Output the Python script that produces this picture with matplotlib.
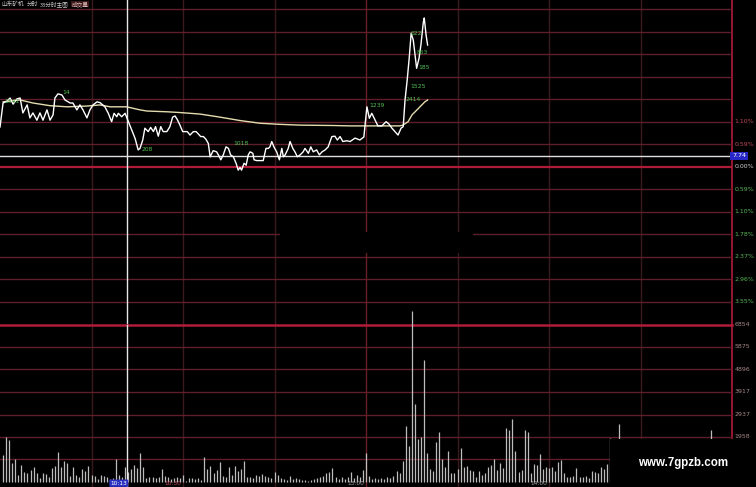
import matplotlib
matplotlib.use('Agg')
import matplotlib.pyplot as plt
from matplotlib.patches import Rectangle

# intraday price, minutes after 9:30 and % change vs previous close
price_t = [0.0, 1.0, 2.3, 3.3, 4.3, 5.6, 6.6, 7.5, 8.9, 9.8, 10.8, 12.1, 13.1, 14.1, 15.4, 16.4, 17.4, 18.0,
           19.0, 20.3, 21.3, 23.0, 23.9, 25.2, 26.2, 27.2, 28.5, 29.5, 30.5, 31.8, 32.8, 34.4, 35.5, 36.6,
           37.4, 38.3, 38.8, 39.9, 41.0, 42.1, 43.2, 44.3, 45.3, 45.9, 46.8, 47.5, 48.6, 49.4, 50.3, 51.0,
           51.9, 52.7, 53.5, 54.7, 55.7, 56.6, 57.4, 58.1, 59.0, 59.9, 61.4, 62.3, 63.4, 64.3, 65.0, 65.8,
           66.7, 67.5, 68.3, 68.9, 69.9, 71.0, 71.6, 72.4, 73.2, 74.1, 74.9, 75.6, 76.5, 77.4, 78.1, 78.7,
           79.2, 80.0, 80.7, 81.4, 82.0, 82.9, 83.3, 84.2, 85.2, 86.3, 87.2, 88.0, 88.5, 89.1, 89.8, 90.7,
           91.6, 92.4, 92.9, 93.5, 94.5, 95.1, 96.0, 96.7, 97.5, 98.4, 99.4, 100.0, 101.1, 101.9, 102.7,
           103.8, 104.7, 105.6, 106.6, 107.6, 108.8, 109.8, 110.6, 111.5, 112.4, 113.7, 114.8, 116.4,
           118.0, 119.3, 120.3, 121.1, 121.9, 123.0, 123.9, 125.2, 126.6, 127.5, 128.5, 129.5, 130.5,
           131.5, 132.2, 132.8, 133.5, 134.2, 134.8, 135.5, 136.6, 137.4, 138.0, 138.8, 139.1, 139.7, 140.2]
price_pct = [1.04, 1.67, 1.72, 1.80, 1.64, 1.78, 1.80, 1.41, 1.62, 1.28, 1.41, 1.22, 1.41, 1.22, 1.49, 1.22,
             1.36, 1.80, 1.91, 1.88, 1.75, 1.67, 1.67, 1.49, 1.62, 1.49, 1.28, 1.49, 1.62, 1.70, 1.68, 1.57,
             1.40, 1.18, 1.40, 1.31, 1.40, 1.31, 1.40, 1.18, 0.96, 0.74, 0.44, 0.48, 0.70, 1.01, 0.92, 1.03,
             0.92, 1.05, 0.80, 1.05, 0.92, 0.92, 1.05, 1.30, 1.33, 1.24, 1.09, 0.92, 0.92, 0.83, 0.92, 0.92,
             0.86, 0.79, 0.79, 0.72, 0.61, 0.26, 0.42, 0.39, 0.31, 0.18, 0.31, 0.52, 0.48, 0.31, 0.26, 0.09,
             -0.09, -0.02, -0.09, 0.09, 0.04, 0.31, 0.39, 0.35, 0.18, 0.16, 0.16, 0.16, 0.48, 0.48, 0.52,
             0.66, 0.52, 0.39, 0.18, 0.48, 0.26, 0.31, 0.48, 0.66, 0.48, 0.39, 0.26, 0.31, 0.39, 0.48, 0.35,
             0.52, 0.39, 0.44, 0.31, 0.39, 0.44, 0.52, 0.79, 0.80, 0.70, 0.79, 0.66, 0.68, 0.66, 0.75, 0.70,
             0.78, 1.57, 1.27, 1.40, 1.22, 1.07, 1.07, 1.18, 1.12, 1.01, 0.92, 0.83, 1.01, 1.05, 1.75, 2.27,
             2.88, 3.50, 3.32, 2.58, 2.85, 3.19, 3.79, 3.90, 3.45, 3.19]

# average price line
avg_t = [1.0, 6.6, 10.8, 16.4, 22.0, 28.5, 32.8, 36.1, 41.5, 45.9, 48.1, 54.7, 59.0, 65.6, 72.1, 78.7,
         85.2, 91.8, 98.4, 109.2, 114.8, 123.0, 131.1, 132.1, 133.8, 135.1, 136.1, 137.7, 139.3, 140.2]
avg_pct = [1.70, 1.75, 1.67, 1.60, 1.57, 1.59, 1.62, 1.57, 1.57, 1.49, 1.46, 1.44, 1.42, 1.38, 1.30, 1.21,
           1.14, 1.11, 1.09, 1.08, 1.07, 1.07, 1.07, 1.09, 1.18, 1.36, 1.44, 1.57, 1.70, 1.75]

# volume per minute (minute 1 onwards)
volume = [1162, 1958, 1814, 814, 988, 291, 727, 422, 379, 509,
          640, 379, 161, 379, 335, 204, 596, 683, 1292, 640,
          901, 814, 248, 640, 291, 204, 553, 466, 683, 291,
          248, 117, 291, 248, 204, 117, 161, 988, 291, 204,
          640, 422, 553, 727, 596, 1249, 640, 161, 204, 204,
          161, 204, 553, 248, 204, 117, 161, 204, 161, 291,
          30, 161, 161, 117, 161, 74, 1075, 553, 683, 379,
          509, 857, 248, 204, 640, 291, 683, 466, 553, 901,
          204, 204, 161, 291, 248, 335, 248, 204, 161, 422,
          291, 161, 117, 74, 248, 117, 161, 117, 74, 74,
          30, 74, 117, 161, 204, 248, 379, 422, 596, 204,
          117, 204, 117, 204, 422, 161, 291, 204, 509, 1249,
          248, 117, 161, 117, 161,
          117, 204, 161, 248, 466, 379, 901, 2424, 1549, 7427,
          3381, 1858, 1945, 5295, 1262, 553, 466, 1740, 2176, 988,
          640, 1349, 392, 379, 553, 1466, 640, 683, 509, 466,
          204, 466, 291, 379, 640, 727, 988, 509, 814, 596,
          2367, 2280, 2759, 1349, 435, 509, 2250, 2176, 392, 770,
          727, 1236, 553, 640, 596, 640, 466, 870, 975, 379,
          204, 204, 248, 596, 204, 204, 248, 161, 466, 422,
          379, 640, 553, 770, 1932]
late_t = [203, 233]
late_vol = [2510, 2250]

# green value tags on the price line
tag_t = [1.5, 20.5, 46.5, 76.5, 121.0, 133.0, 134.5, 137.0, 136.5, 134.5]
tag_pct = [1.70, 1.95, 0.45, 0.62, 1.60, 1.75, 2.10, 2.60, 3.00, 3.50]
tag_txt = ['1541', '14', '208', '1018', '1239', '2414', '1525', '185', '863', '622']

price_levels = [1.18, 0.59, 0.0, -0.59, -1.18, -1.77, -2.36, -2.95, -3.54]
price_labels = ['1.10%', '0.59%', '0.00%', '0.59%', '1.10%', '1.78%', '2.37%', '2.96%', '3.55%']
price_label_colors = ['#c04858', '#c04858', '#d0d0d0'] + ['#58b858'] * 6
vol_levels = [6854, 5875, 4896, 3917, 2937, 1958]

cross_t = 41.7
cross_pct = 0.29
cross_price = '7.74'
time_ticks = [60, 120, 180]
time_labels = ['10:30', '13:00', '14:00']
time_colors = ['#c04858', '#a0a0a0', '#a0a0a0']

W, H = 756, 487
GRID = '#5e1e2a'
DIM = '#3a1a1e'
RED = '#b01c38'

fig = plt.figure(figsize=(W / 100, H / 100), dpi=100, facecolor='black')
ax = fig.add_axes([0, 1 - 324.5 / H, 732 / W, 324.5 / H])
axv = fig.add_axes([0, 0, 732 / W, (H - 324.5) / H])

for a in (ax, axv):
    a.set_facecolor('black')
    a.set_xlim(0, 240)
    a.set_xticks([])
    a.set_yticks([])
    for s in a.spines.values():
        s.set_visible(False)
    for t in (30, 60, 90, 150, 180, 210):
        a.axvline(t, color=DIM, lw=1, zorder=1)
    a.axvline(120, color='#6a1e28', lw=1, zorder=1)
    a.axvline(240, color=RED, lw=1.2, zorder=1, clip_on=False)

ax.set_ylim(-4.138, 4.371)
axv.set_ylim(-218, 6854)

for k in range(-6, 8):
    if k == 0:
        ax.axhline(0, color=RED, lw=1.6, zorder=1)
    else:
        ax.axhline(k * 0.59, color=GRID, lw=1, zorder=1)
for v in (979, 1958, 2937, 3917, 4896, 5875):
    axv.axhline(v, color=GRID, lw=1, zorder=1)
axv.axhline(6854, color=RED, lw=1.8, zorder=1, clip_on=False)

# volume bars
vt = list(range(1, len(volume) + 1))
axv.vlines(vt, 0, volume, color='#bdbdbd', lw=0.9, zorder=2, clip_on=False)
axv.vlines(late_t, 0, late_vol, color='#bdbdbd', lw=0.9, zorder=2)

# price and average lines
ax.plot(avg_t, avg_pct, color='#e4dcae', lw=1.0, zorder=3)
ax.plot(price_t, price_pct, color='white', lw=1.0, zorder=4)
for t, p, s in zip(tag_t, tag_pct, tag_txt):
    ax.text(t, p, s, color='#50c050', fontsize=4.3, ha='left', va='center', zorder=5)

# crosshair
ax.axhline(cross_pct, color='#e0e0e0', lw=1, zorder=3)
ax.axvline(cross_t, color='#e8e8e8', lw=1, zorder=3)
axv.axvline(cross_t, color='#e8e8e8', lw=1, zorder=3)

# right axis labels
for lv, lb, c in zip(price_levels, price_labels, price_label_colors):
    ax.text(1.003, lv, lb, transform=ax.get_yaxis_transform(), color=c,
            fontsize=4.5, ha='left', va='center')
for lv in vol_levels:
    axv.text(1.003, lv, str(lv), transform=axv.get_yaxis_transform(), color='#a88888',
             fontsize=4.5, ha='left', va='center')
ax.text(1.0, cross_pct, cross_price, transform=ax.get_yaxis_transform(), color='white',
        fontsize=4.5, ha='left', va='center',
        bbox=dict(boxstyle='square,pad=0.25', fc='#2828c8', ec='none'))

# bottom time labels
for t, lb, c in zip(time_ticks, time_labels, time_colors):
    axv.text(t - 0.5, 0.008, lb, transform=axv.get_xaxis_transform(), color=c,
             fontsize=4.2, ha='right', va='bottom')
axv.text(cross_t, 0.008, '10:13', transform=axv.get_xaxis_transform(), color='white',
         fontsize=4.2, ha='right', va='bottom',
         bbox=dict(boxstyle='round,pad=0.2', fc='#2830c0', ec='none'))

# title
cjk = ['Noto Sans CJK SC', 'DejaVu Sans']
ty = 1 - 4 / H
fig.text(1 / W, ty, '山东矿机', family=cjk, color='#c8c8c8', fontsize=4.1, va='center')
fig.text(27 / W, ty, '分时', family=cjk, color='#c8c8c8', fontsize=4.1, va='center')
fig.text(40 / W, ty, '33分时主图', family=cjk, color='#c8c8c8', fontsize=4.1, va='center')
fig.text(72 / W, ty, '成交量', family=cjk, color='#d8b0b0', fontsize=4.1, va='center',
         bbox=dict(boxstyle='square,pad=0.1', fc='#3a1818', ec='none'))

# masking boxes
fig.add_artist(Rectangle((280 / W, 1 - 253 / H), 193 / W, 21 / H, transform=fig.transFigure,
                         fc='black', ec='none', zorder=5))
fig.add_artist(Rectangle((610 / W, 0), 146 / W, 48 / H, transform=fig.transFigure,
                         fc='black', ec='none', zorder=5))
fig.text(683 / W, 1 - 463 / H, 'www.7gpzb.com', family='Liberation Sans', weight='bold',
         color='white', fontsize=8.3, ha='center', va='center', zorder=6)

fig.savefig('out.png', dpi=100, facecolor='black')
